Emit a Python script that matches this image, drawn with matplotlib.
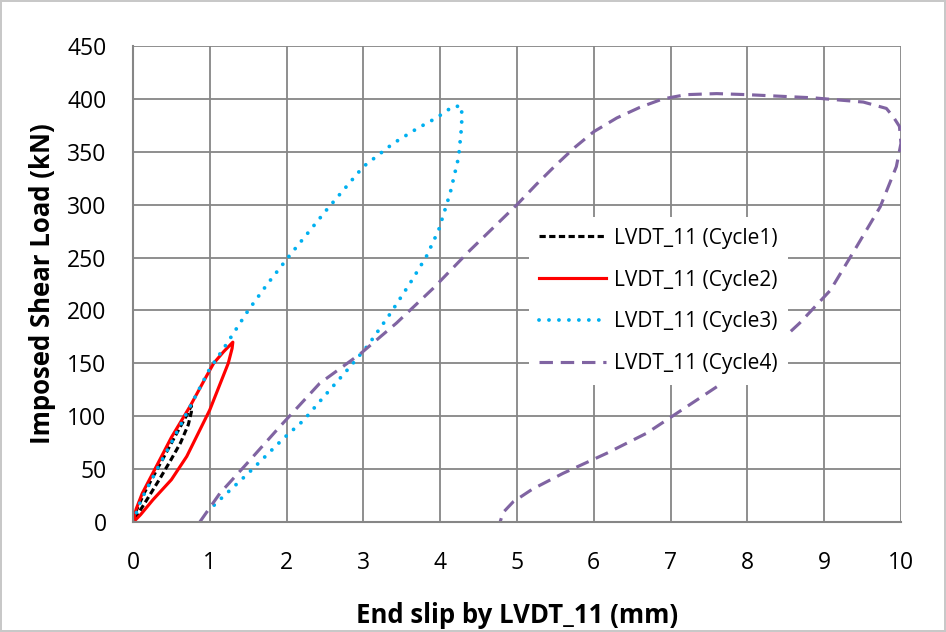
import matplotlib
matplotlib.use("Agg")
import matplotlib.pyplot as plt

plt.rcParams['font.family'] = ['Open Sans', 'DejaVu Sans']

# cycle 1 (black dashed)
c1_x = [0.0, 0.05, 0.15, 0.3, 0.45, 0.6, 0.7, 0.76, 0.76, 0.72, 0.62, 0.48, 0.35, 0.24, 0.12, 0.04, 0.0]
c1_y = [0, 12, 28, 48, 68, 88, 101, 110, 104, 92, 75, 57, 41, 28, 14, 5, 0]

# cycle 2 (red solid)
c2_x = [0.0, 0.04, 0.12, 0.3, 0.5, 0.74, 0.95, 1.05, 1.18, 1.3, 1.29, 1.24, 1.12, 1.0, 0.85, 0.7, 0.5, 0.26, 0.1, 0.02, 0.0]
c2_y = [0, 12, 27, 52, 80, 109, 137, 150, 161, 170, 164, 150, 128, 106, 84, 62, 40, 21, 7, 1, 0]

# cycle 3 (blue dotted)
c3_x = [0.0, 0.1, 0.3, 0.5, 0.75, 1.0, 1.18, 1.5, 1.75, 2.04, 2.52, 3.0, 3.39, 3.7, 3.95, 4.17, 4.28,
        4.28, 4.24, 4.13, 3.98, 3.82, 3.61, 3.35, 3.06, 2.83, 2.48, 2.22, 1.96, 1.5, 1.13, 1.0]
c3_y = [0, 20, 48, 75, 110, 145, 164, 200, 225, 252, 295, 336, 358, 372, 382, 393, 393,
        375, 345, 311, 276, 251, 226, 197, 167, 147, 118, 96, 79, 46, 21, 12]

# cycle 4 (purple dashed)
c4_x = [0.87, 1.13, 1.48, 1.91, 2.43, 2.96, 3.43, 3.91, 4.39, 5.0, 5.25, 5.5, 5.75, 6.0, 6.3, 6.6, 6.9,
        7.2, 7.6, 8.0, 8.86, 9.51, 9.81, 9.9, 9.98, 10.0, 9.94, 9.73, 9.42, 9.08, 8.68, 8.25, 7.73, 7.21,
        6.69, 6.17, 5.6, 5.2, 4.95, 4.82, 4.78]
c4_y = [0, 27, 55, 90, 131, 159, 188, 221, 257, 300, 319, 337, 354, 369, 382, 392, 400,
        404, 405, 404, 401, 397, 391, 383, 374, 358, 336, 298, 260, 219, 188, 159, 134, 109,
        84, 65, 46, 31, 19, 9, 0]

labels = ['LVDT_11 (Cycle1)', 'LVDT_11 (Cycle2)', 'LVDT_11 (Cycle3)', 'LVDT_11 (Cycle4)']
x_ticks = [0, 1, 2, 3, 4, 5, 6, 7, 8, 9, 10]
y_ticks = [0, 50, 100, 150, 200, 250, 300, 350, 400, 450]

fig = plt.figure(figsize=(9.46, 6.32), dpi=100)
fig.patch.set_edgecolor('#c8c8c8')
fig.patch.set_linewidth(1.5)
ax = fig.add_axes([0.1406, 0.1741, 0.8118, 0.7531])

lw = 2.25
ax.plot(c1_x, c1_y, color='black', lw=lw, dashes=(2.0, 1.1), label=labels[0])
ax.plot(c2_x, c2_y, color='#ff0000', lw=lw, label=labels[1])
ax.plot(c3_x, c3_y, color='#00b0f0', lw=lw + 0.5, dashes=(0.01, 2.6), dash_capstyle='round', label=labels[2])
ax.plot(c4_x, c4_y, color='#8064a2', lw=lw, dashes=(4.3, 2.5), label=labels[3])

ax.set_xlim(0, 10)
ax.set_ylim(0, 450)
ax.set_xticks(x_ticks)
ax.set_yticks(y_ticks)
ax.grid(True, color='#868686', lw=1.3)
ax.set_axisbelow(True)
for s in ax.spines.values():
    s.set_visible(False)
ax.spines['left'].set_visible(True)
ax.spines['bottom'].set_visible(True)
ax.spines['left'].set_color('#868686')
ax.spines['bottom'].set_color('#868686')
ax.spines['left'].set_linewidth(1.5)
ax.spines['bottom'].set_linewidth(1.5)
ax.tick_params(length=0, labelsize=16.5)
ax.tick_params(axis='x', pad=21)
ax.tick_params(axis='y', pad=19)

ax.set_xlabel('End slip by LVDT_11 (mm)', fontsize=18.5, fontweight='bold', labelpad=19)
ax.set_ylabel('Imposed Shear Load (kN)', fontsize=18.5, fontweight='bold', labelpad=8)

leg = ax.legend(loc='upper left', bbox_to_anchor=(0.502, 0.662), frameon=True, fontsize=15,
                handlelength=3.2, labelspacing=1.0, borderpad=0.5, handletextpad=0.4)
leg.get_frame().set_edgecolor('none')
leg.get_frame().set_facecolor('white')
leg.get_frame().set_alpha(1)
leg.get_frame().set_boxstyle('square', pad=0)

fig.savefig('out.png', dpi=100)
